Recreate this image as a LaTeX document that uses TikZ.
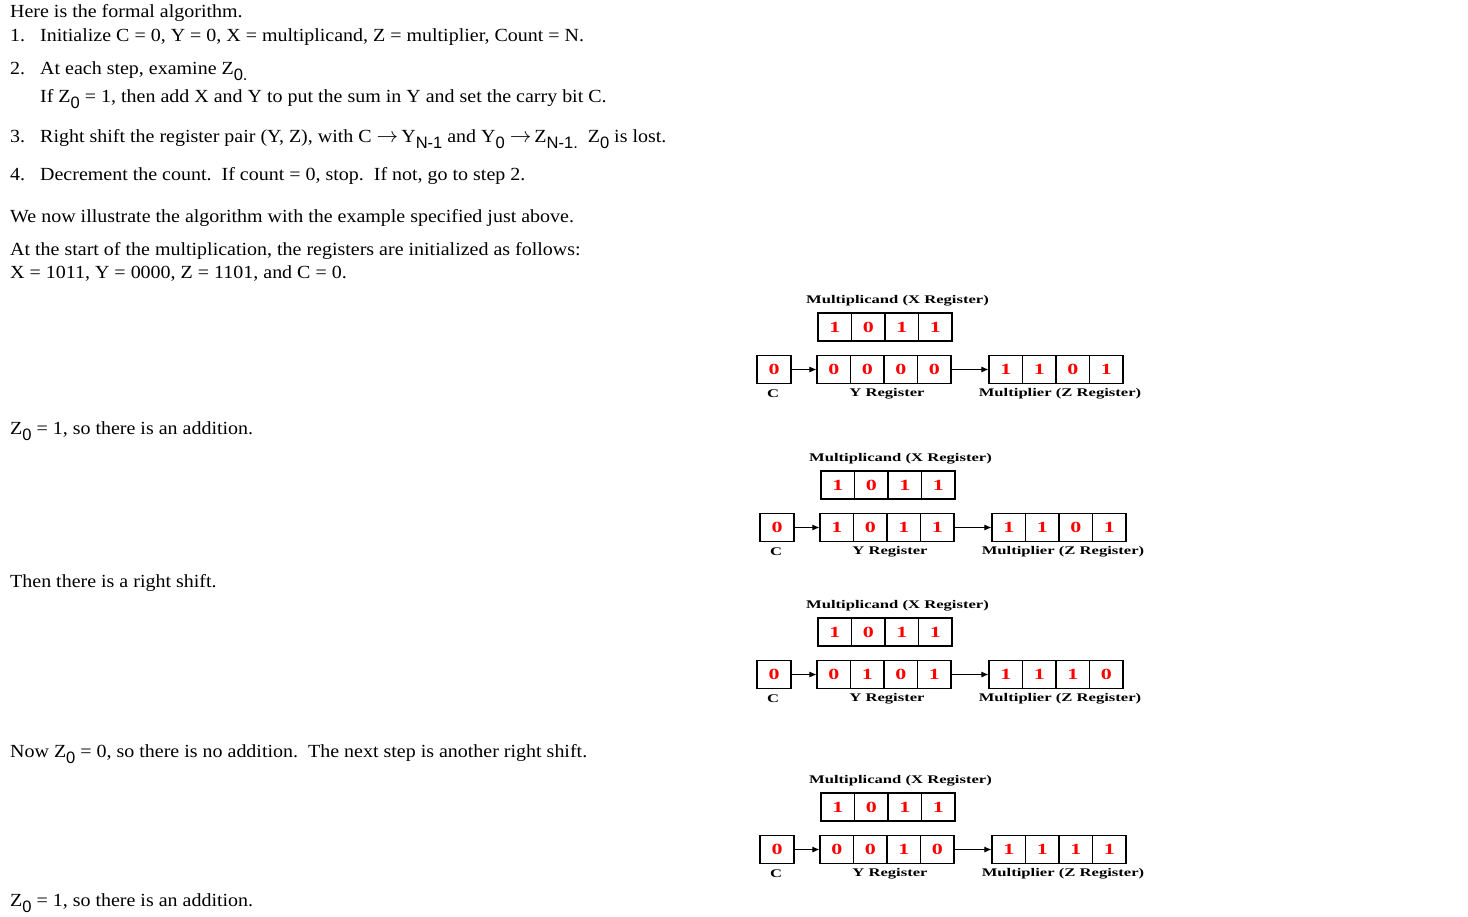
\documentclass[tikz,border=0pt]{standalone}
\usepackage{fontspec}
\setmainfont{Liberation Serif}[FakeStretch=1.08]
\setsansfont{Liberation Sans}
\newfontfamily\diagfont{Liberation Serif}[FakeStretch=1.42]
\usetikzlibrary{arrows.meta}
\newcommand\zsub[1]{\raisebox{-0.32em}{\sffamily\fontsize{16.5}{16.5}\selectfont #1}}
\newcommand\num[1]{\makebox[30pt][l]{#1}}
\newcommand\rarr{\scalebox{1.25}{$\rightarrow$}}
\tikzset{
  txt/.style={anchor=base west,inner sep=0pt,font=\fontsize{18.5}{22}\selectfont},
  cell/.style={draw,line width=1.1pt,minimum width=33.5pt,minimum height=28pt,inner sep=0pt,
    text=red,font=\diagfont\bfseries\fontsize{15.5}{15.5}\selectfont},
  lbl/.style={inner sep=0pt,font=\diagfont\bfseries\fontsize{11.7}{12}\selectfont},
  arr/.style={line width=0.9pt,-{Latex[length=7pt,width=6pt]}}
}
\newcommand\regdiag[7]{%
 \begin{scope}[shift={(#2,#3)}]
  \node[lbl] (#1t) at (140.5,-54) {Multiplicand (X Register)};
  \foreach \b [count=\i] in {#4} \node[cell] (#1x\i) at ({61+33.5*(\i-1)+16.75},-28) {\b};
  \node[cell,minimum width=34pt] (#1c) at (17,14.5) {#5};
  \foreach \b [count=\i] in {#6} \node[cell] (#1y\i) at ({60+33.5*(\i-1)+16.75},14.5) {\b};
  \foreach \b [count=\i] in {#7} \node[cell] (#1z\i) at ({232+33.5*(\i-1)+16.75},14.5) {\b};
  \draw[arr] (#1c.east) -- (#1y1.west);
  \draw[arr] (#1y4.east) -- (#1z1.west);
  \node[lbl] (#1lc) at (16,38.5) {C};
  \node[lbl] (#1ly) at (130,38.5) {Y Register};
  \node[lbl] (#1lz) at (303,38.5) {Multiplier (Z Register)};
 \end{scope}}
\begin{document}
\begin{tikzpicture}[x=1pt,y=-1pt]
\frenchspacing
\useasboundingbox (0,0) rectangle (1468,917);
\node[txt] (t0) at (10,18) {Here is the formal algorithm.};
\node[txt] (t1) at (10,41.5) {\num{1.}Initialize C = 0, Y = 0, X = multiplicand, Z = multiplier, Count = N.};
\node[txt] (t2) at (10,74.5) {\num{2.}At each step, examine Z\zsub{0.}};
\node[txt] (t2b) at (40,102.5) {If Z\zsub{0} = 1, then add X and Y to put the sum in Y and set the carry bit C.};
\node[txt] (t3) at (10,142.5) {\num{3.}Right shift the register pair (Y, Z), with C \rarr\,Y\zsub{N-1} and Y\zsub{0} \rarr\,Z\zsub{N-1.}\ \ Z\zsub{0} is lost.};
\node[txt] (t4) at (10,180.5) {\num{4.}Decrement the count.\ \ If count = 0, stop.\ \ If not, go to step 2.};
\node[txt] (t5) at (10,222.5) {We now illustrate the algorithm with the example specified just above.};
\node[txt] (t6) at (10,255.5) {At the start of the multiplication, the registers are initialized as follows:};
\node[txt] (t7) at (10,278.5) {X = 1011, Y = 0000, Z = 1101, and C = 0.};
\node[txt] (t8) at (10,434.5) {Z\zsub{0} = 1, so there is an addition.};
\node[txt] (t9) at (10,587.5) {Then there is a right shift.};
\node[txt] (t10) at (10,757.5) {Now Z\zsub{0} = 0, so there is no addition.\ \ The next step is another right shift.};
\node[txt] (t11) at (10,906.5) {Z\zsub{0} = 1, so there is an addition.};
\regdiag{a}{757}{355}{1,0,1,1}{0}{0,0,0,0}{1,1,0,1}
\regdiag{b}{760}{513}{1,0,1,1}{0}{1,0,1,1}{1,1,0,1}
\regdiag{c}{757}{660}{1,0,1,1}{0}{0,1,0,1}{1,1,1,0}
\regdiag{d}{760}{835}{1,0,1,1}{0}{0,0,1,0}{1,1,1,1}
\end{tikzpicture}
\end{document}
